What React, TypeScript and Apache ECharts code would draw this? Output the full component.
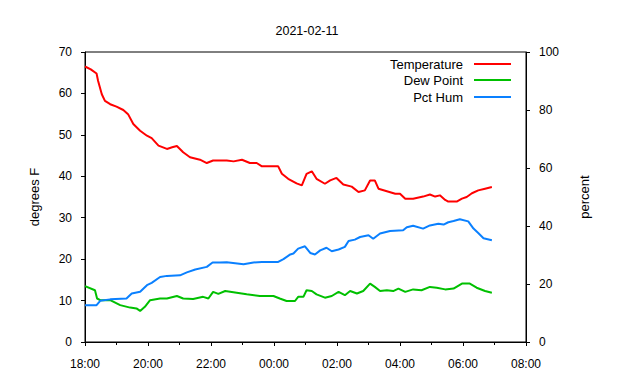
import React, { useEffect, useRef } from "react";
import * as echarts from "echarts";

const titleText = "2021-02-11";
const seriesNames = ["Temperature", "Dew Point", "Pct Hum"];
const seriesColors = ["#ff0000", "#00c000", "#0a80ff"];
const xTickLabels = ["18:00", "20:00", "22:00", "00:00", "02:00", "04:00", "06:00", "08:00"];

const tempTimes = ["18:00","18:11","18:22","18:25","18:32","18:38","18:48","19:00","19:13","19:22","19:32","19:45","19:58","20:07","20:20","20:36","20:46","20:55","21:07","21:20","21:39","21:52","22:04","22:30","22:43","22:59","23:14","23:27","23:37","00:08","00:15","00:27","00:43","00:53","01:02","01:12","01:21","01:37","01:47","01:59","02:12","02:28","02:41","02:53","03:03","03:12","03:19","03:35","03:51","04:00","04:10","04:25","04:44","04:57","05:07","05:16","05:26","05:32","05:48","05:58","06:07","06:17","06:29","06:42","06:55"];
const tempValues = [66.5,65.8,64.8,63.0,59.8,58.2,57.4,56.8,56.0,55.0,52.6,51.0,49.8,49.2,47.4,46.6,47.0,47.3,45.8,44.6,44.0,43.2,43.8,43.8,43.6,44.0,43.2,43.2,42.4,42.4,40.6,39.4,38.3,37.8,40.6,41.2,39.4,38.2,39.0,39.6,38.0,37.5,36.2,36.6,39.0,39.0,37.0,36.4,35.8,35.8,34.6,34.6,35.1,35.6,35.1,35.4,34.3,33.9,33.9,34.6,35.0,35.9,36.6,37.0,37.4];

const dewTimes = ["18:00","18:19","18:23","18:29","18:48","19:07","19:26","19:38","19:45","19:54","20:04","20:23","20:36","20:55","21:07","21:26","21:45","21:55","22:04","22:14","22:27","22:49","23:08","23:33","23:59","00:11","00:24","00:40","00:46","00:56","01:02","01:12","01:21","01:37","01:50","02:03","02:15","02:25","02:38","02:50","03:03","03:12","03:22","03:35","03:47","03:57","04:10","04:25","04:41","04:57","05:10","05:26","05:42","05:58","06:13","06:26","06:42","06:55"];
const dewValues = [13.5,12.5,10.5,10.1,10.1,8.9,8.3,8.1,7.5,8.5,10.1,10.5,10.5,11.1,10.5,10.4,10.9,10.5,12.1,11.6,12.3,11.9,11.5,11.1,11.1,10.5,9.9,9.9,10.9,10.9,12.5,12.3,11.5,10.7,11.1,12.1,11.3,12.3,11.7,12.3,14.1,13.3,12.3,12.5,12.3,12.9,12.1,12.7,12.5,13.3,13.1,12.7,12.9,14.1,14.1,13.1,12.3,11.9];

const humTimes = ["18:00","18:22","18:29","18:48","19:19","19:29","19:45","19:58","20:07","20:23","20:36","21:01","21:14","21:30","21:52","22:03","22:17","22:30","23:02","23:21","23:37","00:08","00:18","00:31","00:37","00:46","00:59","01:09","01:18","01:28","01:40","01:50","02:03","02:15","02:22","02:34","02:44","03:00","03:09","03:22","03:41","04:06","04:13","04:25","04:44","04:57","05:13","05:23","05:32","05:42","05:54","06:10","06:20","06:29","06:39","06:55"];
const humValues = [12.7,12.7,14.2,14.7,15.0,16.7,17.3,19.6,20.4,22.4,22.8,23.0,24.0,25.0,25.9,27.4,27.4,27.5,26.8,27.4,27.6,27.6,28.6,30.2,30.5,32.2,33.0,30.7,30.2,31.6,32.5,31.3,31.9,32.8,34.8,35.3,36.2,36.8,35.6,37.4,38.3,38.5,39.6,40.1,39.1,40.2,40.8,40.5,41.3,41.7,42.3,41.6,39.1,37.6,35.8,35.1];

const toOffset = (t: string) => {
  const [h, m] = t.split(":").map(Number);
  return (h * 60 + m - 18 * 60 + 1440) % 1440;
};
const pair = (times: string[], vals: number[]) => times.map((t, i) => [toOffset(t), vals[i]]);

const FONT = "Liberation Sans, Arial, Helvetica, sans-serif";

export default function App() {
  const ref = useRef<HTMLDivElement>(null);
  useEffect(() => {
    if (!ref.current) return;
    const chart = echarts.init(ref.current, undefined, { renderer: "svg" });
    const legendY = [64, 80, 97];
    const legendGraphics: any[] = [];
    seriesNames.forEach((n, i) => {
      legendGraphics.push({
        type: "text",
        x: 463,
        y: legendY[i],
        style: { text: n, textAlign: "right", textVerticalAlign: "middle", fontSize: 13, fontFamily: FONT, fill: "#000" },
      });
      legendGraphics.push({
        type: "line",
        shape: { x1: 474, y1: legendY[i], x2: 511, y2: legendY[i] },
        style: { stroke: seriesColors[i], lineWidth: 2 },
      });
    });
    const axisCommon = {
      axisLine: { show: true, lineStyle: { color: "#000", width: 1 } },
      axisTick: { show: true, length: 4, lineStyle: { color: "#000" } },
      splitLine: { show: false },
      axisLabel: { color: "#000", fontSize: 12, fontFamily: FONT, margin: 13 },
      nameTextStyle: { color: "#000", fontSize: 13, fontFamily: FONT },
    };
    chart.setOption({
      animation: false,
      backgroundColor: "#fff",
      textStyle: { fontFamily: FONT },
      title: {
        text: titleText,
        left: 302,
        textAlign: "center",
        top: 19,
        textStyle: { fontSize: 12.5, fontWeight: "normal", color: "#000", fontFamily: FONT },
      },
      grid: { left: 85, right: 114, top: 52, bottom: 38, show: true, borderColor: "#000", borderWidth: 1, containLabel: false },
      xAxis: {
        type: "value",
        min: 0,
        max: 840,
        interval: 120,
        ...axisCommon,
        minorTick: { show: true, splitNumber: 2, length: 3, lineStyle: { color: "#000" } },
        axisLabel: {
          ...axisCommon.axisLabel,
          margin: 16,
          formatter: (v: number) => xTickLabels[Math.round(v / 120)] ?? "",
        },
      },
      yAxis: [
        {
          type: "value",
          min: 0,
          max: 70,
          interval: 10,
          position: "left",
          name: "degrees F",
          nameLocation: "middle",
          nameRotate: 90,
          nameGap: 44,
          ...axisCommon,
        },
        {
          type: "value",
          min: 0,
          max: 100,
          interval: 20,
          position: "right",
          name: "percent",
          nameLocation: "middle",
          nameRotate: 90,
          nameGap: 52,
          ...axisCommon,
        },
      ],
      graphic: legendGraphics,
      series: [
        { name: seriesNames[0], type: "line", yAxisIndex: 0, data: pair(tempTimes, tempValues), showSymbol: false, lineStyle: { color: seriesColors[0], width: 2 }, itemStyle: { color: seriesColors[0] } },
        { name: seriesNames[1], type: "line", yAxisIndex: 0, data: pair(dewTimes, dewValues), showSymbol: false, lineStyle: { color: seriesColors[1], width: 2 }, itemStyle: { color: seriesColors[1] } },
        { name: seriesNames[2], type: "line", yAxisIndex: 1, data: pair(humTimes, humValues), showSymbol: false, lineStyle: { color: seriesColors[2], width: 2 }, itemStyle: { color: seriesColors[2] } },
      ],
    });
    return () => chart.dispose();
  }, []);
  return <div ref={ref} style={{ width: 640, height: 380, position: "absolute", left: 0, top: 0 }} />;
}
